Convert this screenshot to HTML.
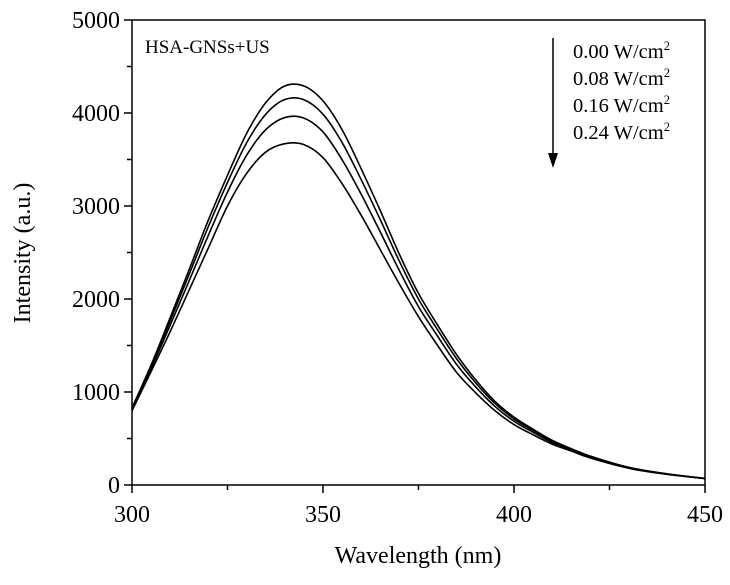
<!DOCTYPE html>
<html><head><meta charset="utf-8"><style>
body{margin:0;background:#fff}
svg{font-family:"Liberation Serif",serif}
</style></head><body>
<svg id="c" width="730" height="580">
<g id="axes"></g><g id="series"></g>
<g>
<line x1="553" y1="38" x2="553" y2="158" stroke="#000" stroke-width="1.5"/>
<polygon points="548,153 558,153 553,168" fill="#000"/>
<text x="573" y="58" font-size="20.5">0.00 W/cm<tspan font-size="12.5" dy="-8">2</tspan></text>
<text x="573" y="85" font-size="20.5">0.08 W/cm<tspan font-size="12.5" dy="-8">2</tspan></text>
<text x="573" y="112" font-size="20.5">0.16 W/cm<tspan font-size="12.5" dy="-8">2</tspan></text>
<text x="573" y="139" font-size="20.5">0.24 W/cm<tspan font-size="12.5" dy="-8">2</tspan></text>
</g>
<text x="145" y="53" font-size="19">HSA-GNSs+US</text>
<text x="418" y="563" font-size="24" text-anchor="middle">Wavelength (nm)</text>
<text transform="translate(30,253) rotate(-90)" font-size="24" text-anchor="middle">Intensity (a.u.)</text>
</svg>
<script>
const wavelengths=[300,305,310,315,320,325,330,335,340,345,350,355,360,365,370,375,380,385,390,395,400,405,410,415,420,430,440,450];
const s000=[830,1290,1800,2320,2850,3330,3780,4110,4290,4290,4130,3820,3400,2950,2480,2060,1720,1400,1130,900,730,600,480,390,310,190,120,70];
const s008=[823,1274,1765,2269,2780,3253,3679,3986,4145,4143,3987,3682,3283,2852,2405,1999,1669,1356,1097,877,711,586,471,385,305,188,119,70];
const s016=[814,1252,1718,2200,2686,3150,3545,3820,3951,3945,3796,3497,3127,2720,2305,1918,1600,1296,1053,845,686,567,458,378,299,185,117,70];
const s024=[800,1220,1650,2100,2550,3000,3350,3580,3670,3660,3520,3240,2900,2530,2160,1810,1500,1210,990,800,650,540,440,365,290,180,115,70];
const seriesNames=['0.00','0.08','0.16','0.24'];
const xTicks=[300,350,400,450];
const yTicks=[0,1000,2000,3000,4000,5000];
const L=132,R=705,T=20,B=485;
const X=v=>L+(v-300)/150*(R-L);
const Y=v=>B-v/5000*(B-T);
const NS='http://www.w3.org/2000/svg';
function mk(p,t,a){const e=document.createElementNS(NS,t);for(const k in a)e.setAttribute(k,a[k]);p.appendChild(e);return e;}
const ax=document.getElementById('axes');
const frame=mk(ax,'rect',{x:L,y:T,width:R-L,height:B-T,fill:'none',stroke:'#000','stroke-width':1.5});


for(let v=300;v<=450;v+=25){const major=xTicks.includes(v);
 const t=mk(ax,'line',{x1:X(v),x2:X(v),y1:B,y2:B+(major?8:5),stroke:'#000','stroke-width':1.5});
 
 }
xTicks.forEach(v=>{const t=mk(ax,'text',{x:X(v),y:B+37,'font-size':24,'text-anchor':'middle'});t.textContent=v;
 
 });
for(let v=0;v<=5000;v+=500){const major=yTicks.includes(v);
 const t=mk(ax,'line',{x1:L-(major?8:5),x2:L,y1:Y(v),y2:Y(v),stroke:'#000','stroke-width':1.5});
 
 }
yTicks.forEach(v=>{const t=mk(ax,'text',{x:L-12,y:Y(v)+8,'font-size':24,'text-anchor':'end'});t.textContent=v;
 
 });
function path(vals){const p=wavelengths.map((w,i)=>[X(w),Y(vals[i])]);let d='M'+p[0][0]+','+p[0][1];
 for(let i=0;i<p.length-1;i++){const p0=p[Math.max(0,i-1)],p1=p[i],p2=p[i+1],p3=p[Math.min(p.length-1,i+2)];
  d+=' C'+(p1[0]+(p2[0]-p0[0])/6)+','+(p1[1]+(p2[1]-p0[1])/6)+' '+(p2[0]-(p3[0]-p1[0])/6)+','+(p2[1]-(p3[1]-p1[1])/6)+' '+p2[0]+','+p2[1];}
 return d;}
const sg=document.getElementById('series');
[s000,s008,s016,s024].forEach((s,i)=>{const e=mk(sg,'path',{d:path(s),fill:'none',stroke:'#000','stroke-width':1.6});
 
 });
</script>
</body></html>
